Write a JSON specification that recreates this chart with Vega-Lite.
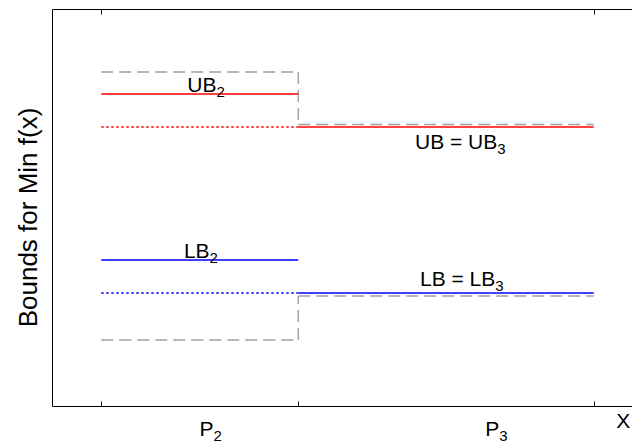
{
  "$schema": "https://vega.github.io/schema/vega-lite/v6.json",
  "autosize": "none",
  "width": 580,
  "height": 397,
  "padding": {"left": 52, "top": 9, "right": 0, "bottom": 37},
  "background": "white",
  "config": {"view": {"stroke": null}, "font": "Liberation Sans"},
  "datasets": {
    "segments": [
      {"x": 0, "x2": 1, "y": 33.4, "y2": 33.4, "bound": "box", "line": "dashed"},
      {"x": 1, "x2": 1, "y": 33.4, "y2": 28.15, "bound": "box", "line": "dashed"},
      {"x": 1, "x2": 2.5, "y": 28.15, "y2": 28.15, "bound": "box", "line": "dashed"},
      {"x": 0, "x2": 1, "y": 6.6, "y2": 6.6, "bound": "box", "line": "dashed"},
      {"x": 1, "x2": 1, "y": 6.6, "y2": 11.0, "bound": "box", "line": "dashed"},
      {"x": 1, "x2": 2.5, "y": 11.0, "y2": 11.0, "bound": "box", "line": "dashed"},
      {"x": 0, "x2": 1, "y": 31.2, "y2": 31.2, "bound": "UB", "line": "solid"},
      {"x": 0, "x2": 1, "y": 27.9, "y2": 27.9, "bound": "UB", "line": "dotted"},
      {"x": 1, "x2": 2.5, "y": 27.9, "y2": 27.9, "bound": "UB", "line": "solid"},
      {"x": 0, "x2": 1, "y": 14.6, "y2": 14.6, "bound": "LB", "line": "solid"},
      {"x": 0, "x2": 1, "y": 11.3, "y2": 11.3, "bound": "LB", "line": "dotted"},
      {"x": 1, "x2": 2.5, "y": 11.3, "y2": 11.3, "bound": "LB", "line": "solid"}
    ],
    "labels": [
      {"main": "UB", "sub": "2", "x": 0.585, "y": 31.4},
      {"main": "UB = UB", "sub": "3", "x": 2.01, "y": 25.7},
      {"main": "LB", "sub": "2", "x": 0.55, "y": 14.8},
      {"main": "LB = LB", "sub": "3", "x": 2.0, "y": 12.0},
      {"main": "P", "sub": "2", "x": 0.57, "y": -3.0},
      {"main": "P", "sub": "3", "x": 2.02, "y": -3.0},
      {"main": "X", "sub": "", "x": 2.685, "y": -2.2}
    ]
  },
  "encoding": {
    "x": {"field": "x", "type": "quantitative", "axis": null, "scale": {"domain": [-0.25, 2.694], "nice": false, "zero": false}},
    "y": {"field": "y", "type": "quantitative", "scale": {"domain": [0, 39.7], "nice": false, "zero": false}}
  },
  "layer": [
    {
      "data": {"name": "segments"},
      "mark": {"type": "rule", "strokeWidth": 1.4},
      "encoding": {
        "x": {"field": "x", "type": "quantitative", "axis": {"orient": "bottom", "values": [0, 1, 2.5], "labels": false, "title": null, "grid": false, "tickSize": -5, "tickColor": "black", "domainColor": "black", "domainWidth": 1}},
        "x2": {"field": "x2"},
        "y": {"field": "y", "type": "quantitative", "axis": {"orient": "left", "ticks": false, "labels": false, "grid": false, "domainColor": "black", "title": "Bounds for Min f(x)", "titleFontSize": 26, "titleFontWeight": "normal", "titleColor": "black", "titleX": -16, "titleY": 208, "titleAngle": -90, "titleAlign": "center", "titleBaseline": "alphabetic", "titleFont": "Liberation Sans"}},
        "y2": {"field": "y2"},
        "color": {"field": "bound", "type": "nominal", "scale": {"domain": ["box", "UB", "LB"], "range": ["#a0a0a0", "#ff0000", "#0000ff"]}, "legend": null},
        "strokeDash": {"field": "line", "type": "nominal", "scale": {"domain": ["dashed", "dotted", "solid"], "range": [[12, 6], [2.5, 2.5], [1, 0]]}, "legend": null}
      }
    },
    {
      "data": {"name": "segments"},
      "transform": [{"filter": "false"}],
      "mark": {"type": "rule"},
      "encoding": {
        "x": {"field": "x", "type": "quantitative", "axis": {"orient": "top", "values": [0, 2.5], "labels": false, "title": null, "grid": false, "tickSize": -5, "tickColor": "black", "domainColor": "black"}}
      }
    },
    {
      "data": {"name": "labels"},
      "mark": {"type": "text", "align": "right", "baseline": "alphabetic", "fontSize": 21, "color": "black", "font": "Liberation Sans"},
      "encoding": {"text": {"field": "main"}}
    },
    {
      "data": {"name": "labels"},
      "mark": {"type": "text", "align": "left", "baseline": "alphabetic", "fontSize": 15, "dy": 5, "color": "black", "font": "Liberation Sans"},
      "encoding": {"text": {"field": "sub"}}
    }
  ],
  "resolve": {"axis": {"x": "independent"}}
}
